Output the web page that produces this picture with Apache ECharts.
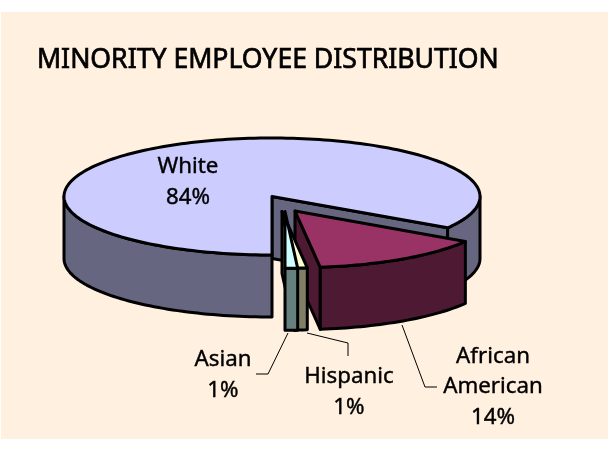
<!DOCTYPE html>
<html>
<head>
<meta charset="utf-8">
<style>html,body{margin:0;padding:0;background:#fff}#chart{width:608px;height:457px}</style>
<script src="https://cdn.jsdelivr.net/npm/echarts@6/dist/echarts.min.js"></script>
</head>
<body>
<div id="chart"></div>
<script>
// Workforce shares, drawn clockwise from the front of the pie
const groups = ['White', 'African American', 'Hispanic', 'Asian'];
const shares = [84, 14, 1, 1];
const topColors = ['#CCCCFF', '#993366', '#FFFFCC', '#CCFFFF'];
const sideColors = ['#666680', '#4D1933', '#808066', '#668080'];

// Pie geometry in pixels
const centre = [272, 196.5];
const radii = [208, 58.5];
const depth = 62;
const explode = [[0, 0], [23, 14.5], [10, 15], [13, 15]];
const shrink = [1, 0.97, 0.97, 0.97];

// Labels and their leader lines
const labelFont = '"Noto Sans", sans-serif';
const labels = [
  { lines: ['White', '84%'], x: 188, y: [166.5, 197.5] },
  { lines: ['African', 'American', '14%'], x: 493, y: [357, 387, 418] },
  { lines: ['Hispanic', '1%'], x: 349, y: [377, 408] },
  { lines: ['Asian', '1%'], x: 223, y: [360, 391] }
];
const leaders = [
  [[402, 325], [425, 387], [437, 387]],
  [[307, 333], [348, 343], [348, 356]],
  [[288, 333], [268, 374], [256, 374]]
];

const total = shares.reduce((a, b) => a + b, 0);
const rad = d => d * Math.PI / 180;

// Angle 0 points at the viewer and grows clockwise seen from above
function rimPoint(i, deg, dy) {
  const r = shrink[i];
  return [
    centre[0] + explode[i][0] - Math.sin(rad(deg)) * radii[0] * r,
    centre[1] + explode[i][1] + Math.cos(rad(deg)) * radii[1] * r + dy
  ];
}
function arc(i, from, to, dy) {
  const pts = [];
  const steps = Math.max(2, Math.ceil(Math.abs(to - from) / 1.5));
  for (let s = 0; s <= steps; s++) pts.push(rimPoint(i, from + (to - from) * s / steps, dy));
  return pts;
}
const line = { stroke: '#000', lineWidth: 3, lineJoin: 'round' };
function poly(points, fill) {
  return { type: 'polygon', shape: { points }, style: Object.assign({ fill }, line) };
}

// Draws one slice: walls behind the rim first, then the lid
function renderSlice(params, api) {
  const i = params.dataIndex;
  const start = api.value(1), end = api.value(2);
  const apex = [centre[0] + explode[i][0], centre[1] + explode[i][1]];
  const apexLow = [apex[0], apex[1] + depth];
  const children = [];

  // cut faces that turn towards the viewer
  [[start, 1], [end, -1]].forEach(([edge, side]) => {
    if (side * Math.sin(rad(edge)) > 1e-6) {
      children.push(poly([apex, rimPoint(i, edge, 0), rimPoint(i, edge, depth), apexLow], sideColors[i]));
    }
  });

  // outer wall, front half only: from 0 to 90 and from 270 round to 360
  [[Math.max(start, 0), Math.min(end, 90)], [Math.max(start, 270), Math.min(end, 360)]]
    .forEach(([a, b]) => {
      if (b > a) {
        children.push(poly(arc(i, a, b, 0).concat(arc(i, b, a, depth)), sideColors[i]));
      }
    });

  children.push(poly([apex].concat(arc(i, start, end, 0)), topColors[i]));
  return { type: 'group', children };
}

// Leader lines and slice captions share one overlay layer
function renderNotes() {
  const children = [];
  leaders.forEach(points => children.push({
    type: 'polyline', shape: { points },
    style: { stroke: '#000', lineWidth: 1, fill: null }
  }));
  labels.forEach(l => l.lines.forEach((text, k) => children.push({
    type: 'text', x: l.x, y: l.y[k],
    style: {
      text, fill: '#000', stroke: '#000', lineWidth: 0.4,
      font: '22.3px ' + labelFont, align: 'center', verticalAlign: 'middle'
    }
  })));
  return { type: 'group', children };
}

let running = 0;
const rows = shares.map((v, i) => {
  const from = running;
  running += v / total * 360;
  return { name: groups[i], value: [v, from, running] };
});

const chart = echarts.init(document.getElementById('chart'), null, { renderer: 'canvas' });
chart.setOption({
  animation: false,
  backgroundColor: '#fff',
  title: {
    text: 'MINORITY EMPLOYEE DISTRIBUTION',
    left: 32, top: 42,
    textStyle: {
      fontFamily: labelFont, fontWeight: 'normal', fontSize: 26.6, color: '#000',
      textBorderColor: '#000', textBorderWidth: 0.7
    }
  },
  graphic: [{
    type: 'rect', z: -10, silent: true,
    shape: { x: 1, y: 12, width: 607, height: 427 },
    style: { fill: '#FFF0E0' }
  }],
  series: [
    { type: 'custom', coordinateSystem: 'none', data: rows, renderItem: renderSlice, z: 2 },
    { type: 'custom', coordinateSystem: 'none', data: [{ value: [0] }], renderItem: renderNotes, z: 3, silent: true }
  ]
});
</script>
</body>
</html>
